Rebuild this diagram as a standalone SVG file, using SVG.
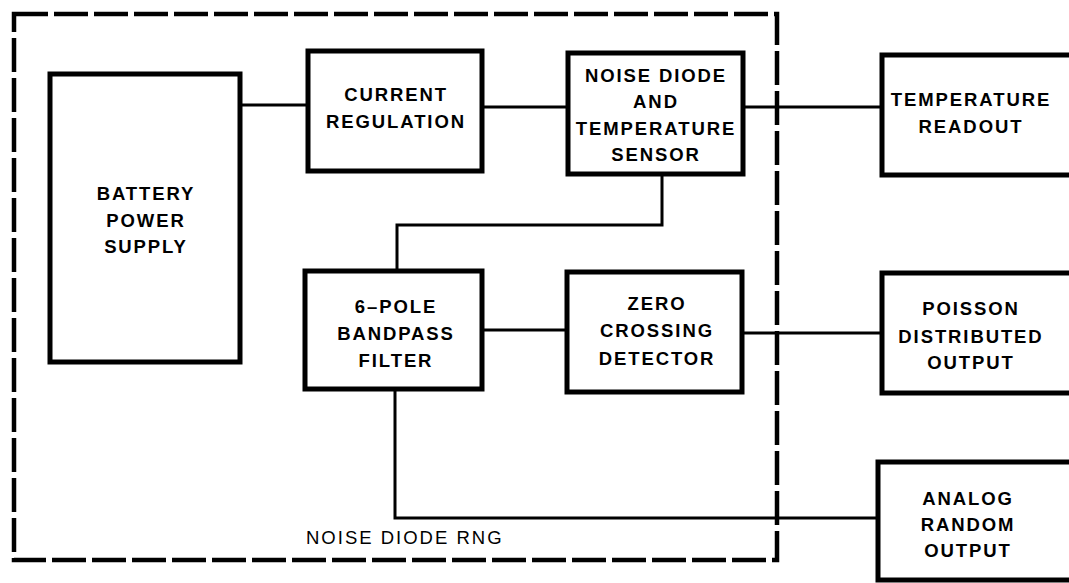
<svg xmlns="http://www.w3.org/2000/svg" width="1069" height="583" viewBox="0 0 1069 583">
<style>
.box{fill:#fff;stroke:#000;stroke-width:5}
.ln{fill:none;stroke:#000;stroke-width:3}
.dash{fill:none;stroke:#000;stroke-width:4.5;stroke-dasharray:34 6}
text{font-family:"Liberation Sans",Arial,sans-serif;font-weight:bold;font-size:18.5px;letter-spacing:1.9px;text-anchor:middle;fill:#000}
.lbl{text-anchor:start;font-weight:normal;font-size:18.5px;letter-spacing:2px}
</style>
<rect width="1069" height="583" fill="#fff"/>
<g id="boundary">
<path class="dash" d="M14,14 L777,14 L777,560 L14,560 Z"/>
<text class="lbl" x="306" y="544">NOISE DIODE RNG</text>
</g>
<g id="connectors">
<path class="ln" d="M240,105 H308"/>
<path class="ln" d="M482,107 H568"/>
<path class="ln" d="M743,107 H882"/>
<path class="ln" d="M662,174 V225 H397 V271"/>
<path class="ln" d="M482,330 H567"/>
<path class="ln" d="M742,333 H882"/>
<path class="ln" d="M395,389 V518 H878"/>
</g>
<g id="battery">
<rect class="box" x="50" y="74" width="190" height="288"/>
<text x="146" y="200">BATTERY</text>
<text x="146" y="227">POWER</text>
<text x="146" y="253">SUPPLY</text>
</g>
<g id="current">
<rect class="box" x="308" y="51" width="174" height="120"/>
<text x="396" y="101">CURRENT</text>
<text x="396" y="128">REGULATION</text>
</g>
<g id="diode">
<rect class="box" x="568" y="53" width="175" height="121"/>
<text x="656" y="82">NOISE DIODE</text>
<text x="656" y="108">AND</text>
<text x="656" y="135">TEMPERATURE</text>
<text x="656" y="161">SENSOR</text>
</g>
<g id="tempreadout">
<rect class="box" x="882" y="55" width="200" height="120"/>
<text x="971" y="106">TEMPERATURE</text>
<text x="971" y="133">READOUT</text>
</g>
<g id="filter">
<rect class="box" x="305" y="271" width="177" height="118"/>
<text x="396" y="313">6–POLE</text>
<text x="396" y="340">BANDPASS</text>
<text x="396" y="367">FILTER</text>
</g>
<g id="zero">
<rect class="box" x="567" y="272" width="175" height="120"/>
<text x="657" y="310">ZERO</text>
<text x="657" y="337">CROSSING</text>
<text x="657" y="365">DETECTOR</text>
</g>
<g id="poisson">
<rect class="box" x="882" y="273" width="200" height="120"/>
<text x="971" y="315">POISSON</text>
<text x="971" y="343">DISTRIBUTED</text>
<text x="971" y="369">OUTPUT</text>
</g>
<g id="analog">
<rect class="box" x="878" y="462" width="200" height="118"/>
<text x="968" y="505">ANALOG</text>
<text x="968" y="531">RANDOM</text>
<text x="968" y="557">OUTPUT</text>
</g>
</svg>
